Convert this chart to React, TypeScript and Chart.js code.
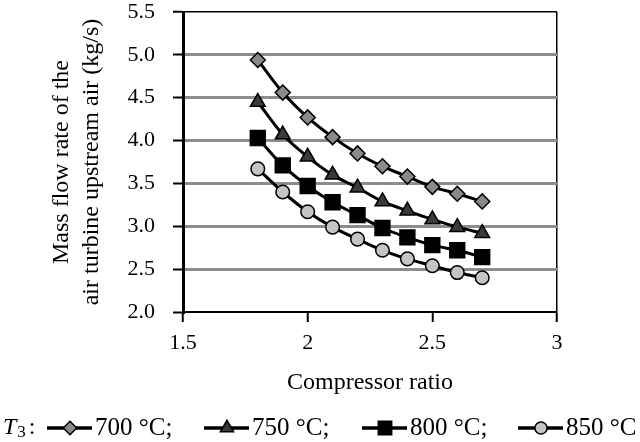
import React, { useEffect, useRef } from "react";
import { Chart, registerables } from "chart.js";

Chart.register(...registerables);

const pressureRatio = [1.8, 1.9, 2.0, 2.1, 2.2, 2.3, 2.4, 2.5, 2.6, 2.7];
const flow700 = [4.94, 4.56, 4.27, 4.04, 3.85, 3.70, 3.58, 3.46, 3.38, 3.29];
const flow750 = [4.45, 4.07, 3.81, 3.60, 3.45, 3.29, 3.18, 3.08, 2.99, 2.92];
const flow800 = [4.03, 3.71, 3.47, 3.28, 3.13, 2.98, 2.87, 2.78, 2.72, 2.64];
const flow850 = [3.67, 3.40, 3.17, 2.99, 2.85, 2.72, 2.62, 2.54, 2.46, 2.40];
const seriesLabels = ["700 °C;", "750 °C;", "800 °C;", "850 °C"];
const xTitle = "Compressor ratio";
const yTitle = ["Mass flow rate of the", "air turbine upstream air (kg/s)"];

const FONT = '"Liberation Serif", "Times New Roman", serif';

const styles = [
  { pointStyle: "rectRot", radius: 7.5, fill: "#8a8a8a" },
  { pointStyle: "triangle", radius: 8.5, fill: "#3a3a3a" },
  { pointStyle: "rect", radius: 10.5, fill: "#000000" },
  { pointStyle: "circle", radius: 6.8, fill: "#c4c4c4" },
];

const legendX = [47, 204, 362, 518];
const legendY = 428;

function drawMarker(ctx: CanvasRenderingContext2D, style: string, x: number, y: number, r: number, fill: string) {
  ctx.beginPath();
  if (style === "rectRot") {
    ctx.moveTo(x - r, y);
    ctx.lineTo(x, y - r);
    ctx.lineTo(x + r, y);
    ctx.lineTo(x, y + r);
    ctx.closePath();
  } else if (style === "triangle") {
    const a = (2 * Math.PI) / 3;
    ctx.moveTo(x, y - r);
    ctx.lineTo(x + Math.sin(a) * r, y - Math.cos(a) * r);
    ctx.lineTo(x + Math.sin(2 * a) * r, y - Math.cos(2 * a) * r);
    ctx.closePath();
  } else if (style === "rect") {
    const s = Math.SQRT1_2 * r;
    ctx.rect(x - s, y - s, 2 * s, 2 * s);
  } else {
    ctx.arc(x, y, r, 0, Math.PI * 2);
  }
  ctx.fillStyle = fill;
  ctx.fill();
  ctx.lineWidth = 1.5;
  ctx.strokeStyle = "#000";
  ctx.stroke();
}

const legendPlugin = {
  id: "customLegend",
  afterDraw(chart: any) {
    const ctx: CanvasRenderingContext2D = chart.ctx;
    ctx.save();
    ctx.fillStyle = "#000";
    ctx.textBaseline = "middle";
    ctx.textAlign = "left";
    ctx.font = `italic 24px ${FONT}`;
    ctx.fillText("T", 3, legendY);
    const tw = ctx.measureText("T").width;
    ctx.font = `17px ${FONT}`;
    ctx.fillText("3", 3 + tw + 1, legendY + 5);
    const sw = ctx.measureText("3").width;
    ctx.font = `24px ${FONT}`;
    ctx.fillText(":", 3 + tw + 1 + sw + 3, legendY);
    chart.data.datasets.forEach((ds: any, i: number) => {
      const x0 = legendX[i];
      ctx.beginPath();
      ctx.moveTo(x0, legendY);
      ctx.lineTo(x0 + 45, legendY);
      ctx.lineWidth = 3.5;
      ctx.strokeStyle = "#000";
      ctx.stroke();
      const st = styles[i];
      drawMarker(ctx, st.pointStyle, x0 + 23, legendY, st.radius * 0.9, st.fill);
      ctx.fillStyle = "#000";
      ctx.font = `25px ${FONT}`;
      ctx.textBaseline = "middle";
      ctx.fillText(ds.label, x0 + 48, legendY);
    });
    ctx.restore();
  },
};

export default function App() {
  const ref = useRef<HTMLCanvasElement>(null);
  useEffect(() => {
    if (!ref.current) return;
    const series = [flow700, flow750, flow800, flow850];
    const chart = new Chart(ref.current, {
      type: "line",
      data: {
        datasets: series.map((vals, i) => ({
          label: seriesLabels[i],
          data: pressureRatio.map((x, j) => ({ x, y: vals[j] })),
          borderColor: "#000",
          borderWidth: 3,
          pointStyle: styles[i].pointStyle as any,
          pointRadius: styles[i].radius,
          pointBackgroundColor: styles[i].fill,
          pointBorderColor: "#000",
          pointBorderWidth: 1.5,
          cubicInterpolationMode: "monotone" as const,
        })),
      },
      options: {
        animation: false,
        responsive: false,
        devicePixelRatio: 1,
        layout: { padding: { top: 7, right: 83, bottom: 40, left: 0 } },
        plugins: { legend: { display: false }, tooltip: { enabled: false } },
        scales: {
          x: {
            type: "linear",
            min: 1.5,
            max: 3,
            afterFit: (s: any) => {
              s.height = 90;
              s.paddingLeft = 0;
              s.paddingRight = 0;
            },
            ticks: {
              stepSize: 0.5,
              color: "#000",
              font: { family: FONT, size: 22 },
              padding: 8,
              maxRotation: 0,
              callback: (v: any) => String(Number(v)),
            },
            grid: {
              drawOnChartArea: true,
              color: (c: any) => (c.tick && c.tick.value === 3 ? "#000" : "rgba(0,0,0,0)"),
              lineWidth: 1.5,
              tickColor: "#000",
              tickLength: 10,
              tickWidth: 2,
            },
            border: { color: "#000", width: 2 },
            title: {
              display: true,
              text: xTitle,
              color: "#000",
              font: { family: FONT, size: 24, lineHeight: 1.2 },
              padding: { top: 0, bottom: 5 },
            },
          },
          y: {
            type: "linear",
            min: 2,
            max: 5.5,
            afterFit: (s: any) => {
              s.width = 183;
              s.paddingTop = 0;
              s.paddingBottom = 0;
            },
            ticks: {
              stepSize: 0.5,
              color: "#000",
              font: { family: FONT, size: 22 },
              padding: 18,
              callback: (v: any) => Number(v).toFixed(1),
            },
            grid: {
              color: (c: any) => {
                const v = c.tick ? c.tick.value : null;
                if (v === 5.5) return "#000";
                if (v === 2) return "rgba(0,0,0,0)";
                return "#8c8c8c";
              },
              lineWidth: (c: any) => (c.tick && c.tick.value === 5.5 ? 1.5 : 3),
              tickColor: "#000",
              tickLength: 10,
              tickWidth: 2,
            },
            border: { color: "#000", width: 3 },
            title: {
              display: true,
              text: yTitle,
              color: "#000",
              font: { family: FONT, size: 24, lineHeight: 1.25 },
              padding: { top: 47, bottom: 0 },
            },
          },
        },
      },
      plugins: [legendPlugin],
    });
    return () => chart.destroy();
  }, []);
  return (
    <div style={{ position: "absolute", left: 0, top: 0, width: 640, height: 442, background: "#fff" }}>
      <canvas ref={ref} width={640} height={442} />
    </div>
  );
}
